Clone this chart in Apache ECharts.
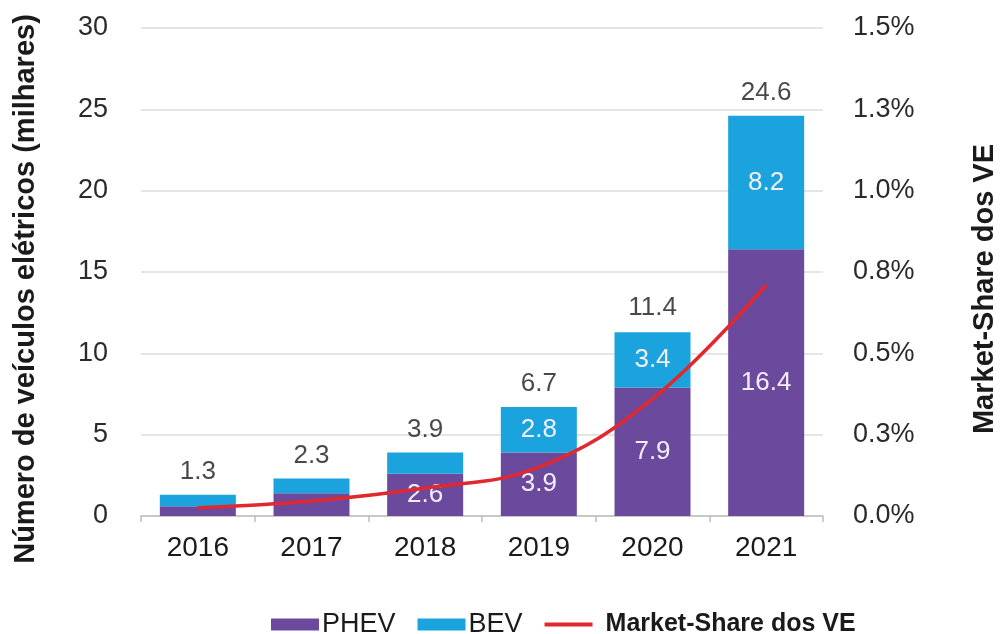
<!DOCTYPE html>
<html>
<head>
<meta charset="utf-8">
<script src="https://cdn.jsdelivr.net/npm/echarts@6/dist/echarts.min.js"></script>
<style>
html,body{margin:0;padding:0;background:#fff;}
#chart{width:1000px;height:634px;}
</style>
</head>
<body>
<div id="chart"></div>
<script>
const years = ['2016','2017','2018','2019','2020','2021'];
const phev = [0.6, 1.4, 2.6, 3.9, 7.9, 16.4];
const bev = [0.7, 0.9, 1.3, 2.8, 3.4, 8.2];
const totals = [1.3, 2.3, 3.9, 6.7, 11.4, 24.6];
const marketShare = [0.025, 0.046, 0.086, 0.15, 0.36, 0.71];

const FONT = '"Liberation Sans", Arial, sans-serif';
const chart = echarts.init(document.getElementById('chart'));
const insideLabel = {
  show: true, position: 'inside', color: '#f4eefb', fontSize: 26, fontFamily: FONT,
  formatter: p => (p.value >= 2 ? p.value.toFixed(1) : '')
};
chart.setOption({
  animation: false,
  textStyle: { fontFamily: FONT },
  grid: { left: 141, right: 177, top: 28, bottom: 118, containLabel: false, outerBoundsMode: 'none' },
  legend: {
    left: 266, top: 606,
    itemWidth: 48, itemHeight: 12, itemGap: 22,
    textStyle: { fontSize: 27, color: '#1a1a1a', fontFamily: FONT },
    data: [
      { name: 'PHEV', icon: 'rect', textStyle: { padding: [0, 13, 0, -2] } },
      { name: 'BEV', icon: 'rect', textStyle: { padding: [0, 6, 0, -2] } },
      { name: 'Market-Share dos VE', icon: 'path://M0,0H48V4H0Z',
        textStyle: { fontSize: 25, fontWeight: 'bold', color: '#1a1a1a', padding: [0, 0, 0, 8] } }
    ]
  },
  xAxis: {
    type: 'category', data: years,
    axisLine: { lineStyle: { color: '#bfbfbf', width: 1.5 } },
    axisTick: { show: true, length: 6, lineStyle: { color: '#bfbfbf', width: 1.5 } },
    axisLabel: { fontSize: 28, color: '#1a1a1a', margin: 18, fontFamily: FONT }
  },
  yAxis: [
    {
      type: 'value', min: 0, max: 30, interval: 5,
      name: 'Número de veículos elétricos (milhares)', nameLocation: 'middle', nameGap: 101,
      nameTextStyle: { fontSize: 29, fontWeight: 'bold', color: '#1a1a1a', fontFamily: FONT, padding: [0, 34, 0, 0] },
      axisLine: { show: false }, axisTick: { show: false },
      axisLabel: { fontSize: 27, color: '#2a2a2a', margin: 33, fontFamily: FONT },
      splitLine: { lineStyle: { color: '#dcdcdc', width: 1.5 } }
    },
    {
      type: 'value', min: 0, max: 1.5, interval: 0.25, position: 'right',
      name: 'Market-Share dos VE', nameLocation: 'middle', nameGap: 147, nameRotate: 90,
      nameTextStyle: { fontSize: 29, fontWeight: 'bold', color: '#1a1a1a', fontFamily: FONT, padding: [0, 34, 0, 0] },
      axisLine: { show: false }, axisTick: { show: false },
      axisLabel: { fontSize: 27, color: '#2a2a2a', margin: 30, fontFamily: FONT,
        formatter: v => v.toFixed(1) + '%' },
      splitLine: { show: false }
    }
  ],
  series: [
    { name: 'PHEV', type: 'bar', stack: 'ev', data: phev, barWidth: 76,
      itemStyle: { color: '#6B4A9E' }, label: insideLabel },
    { name: 'BEV', type: 'bar', stack: 'ev', data: bev, barWidth: 76,
      itemStyle: { color: '#1BA3DD' }, label: insideLabel },
    { name: 'Total', type: 'scatter', data: totals, symbolSize: 0, silent: true,
      label: { show: true, position: 'top', distance: 10, color: '#1a1a1a', fontSize: 26, fontFamily: FONT,
        formatter: p => p.value.toFixed(1) } },
    { name: 'Market-Share dos VE', type: 'line', yAxisIndex: 1, data: marketShare,
      smooth: 0.4, symbol: 'none', lineStyle: { color: '#E0282E', width: 3.5 },
      itemStyle: { color: '#E0282E' }, z: 5 }
  ]
});
</script>
</body>
</html>
